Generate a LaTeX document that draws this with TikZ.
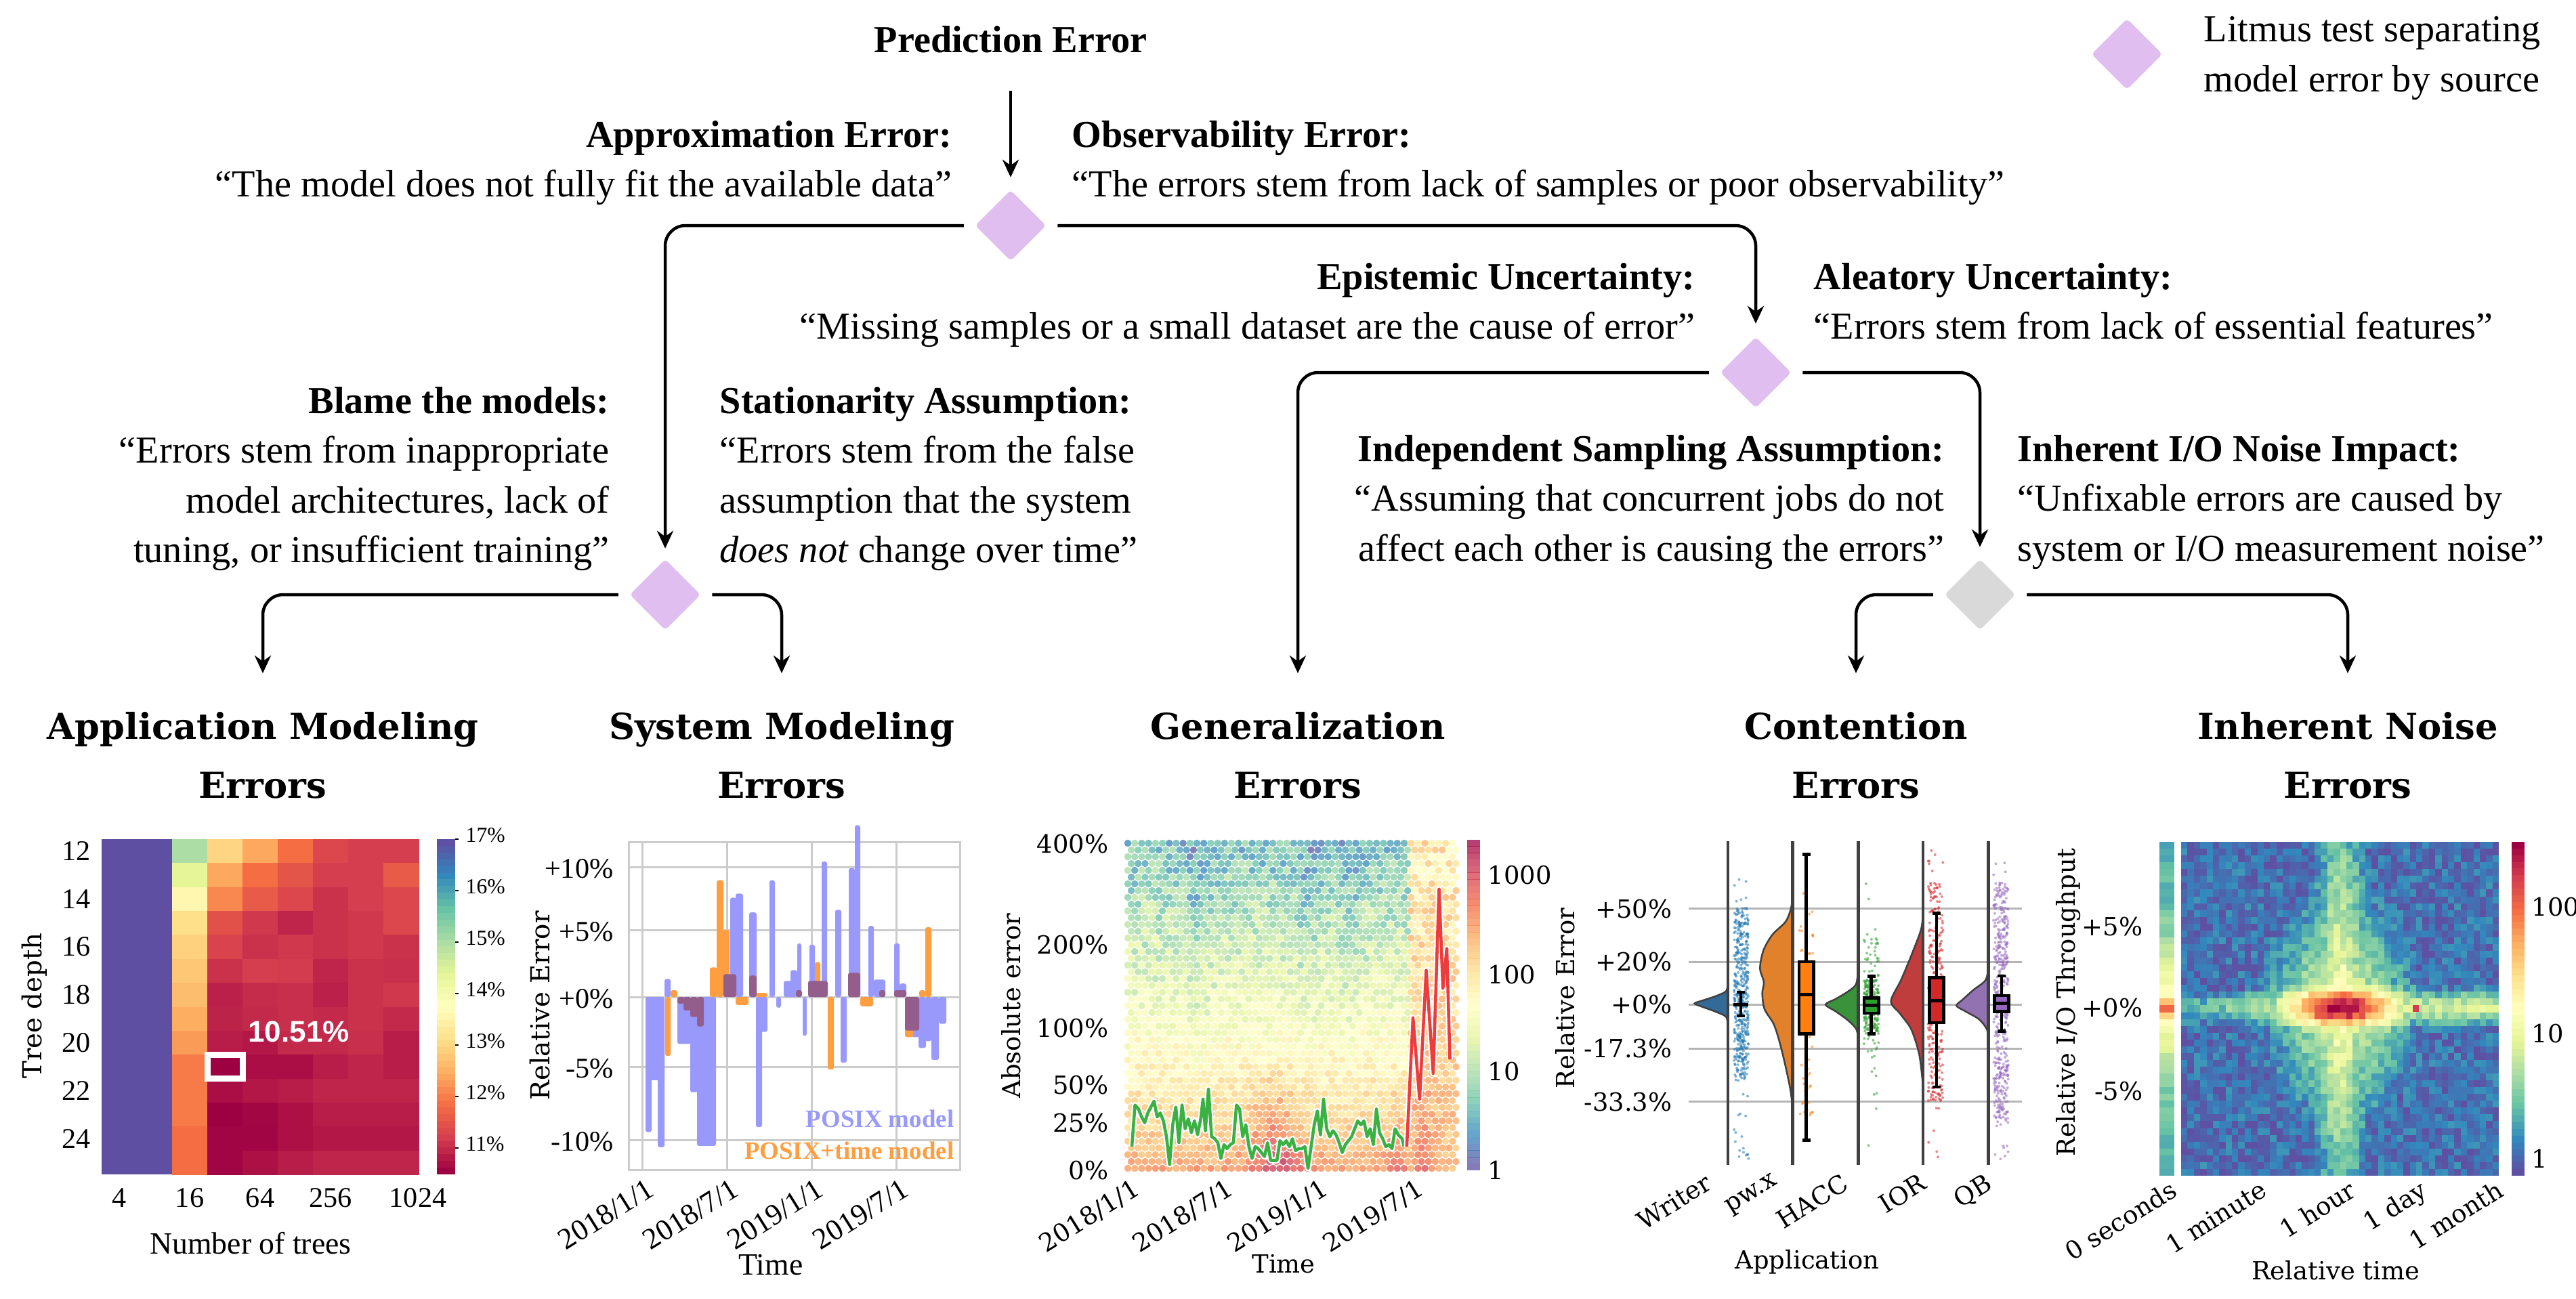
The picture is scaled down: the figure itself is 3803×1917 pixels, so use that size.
\documentclass[tikz,border=0pt]{standalone}
\usepackage{fontspec}
\setmainfont{Liberation Serif}
\setsansfont{Liberation Sans}
\newfontfamily\plotfont{DejaVu Serif}
\usepackage{tikz}
\usetikzlibrary{arrows.meta,shapes.geometric}
\tikzset{>={Stealth[length=2.6mm,width=2.4mm]}}

\definecolor{litmus}{HTML}{E0BEEF}
\definecolor{noisetest}{HTML}{D9D9D9}
\definecolor{gridc}{HTML}{CCCCCC}
\definecolor{contgrid}{HTML}{B5B5B5}
\definecolor{posix}{HTML}{9999FC}
\definecolor{posixtime}{HTML}{FF9E40}
\definecolor{overlap}{HTML}{945E8C}
\definecolor{genline}{HTML}{3BB143}
\definecolor{genspike}{HTML}{EE3B3B}
\definecolor{violinline}{HTML}{404040}
\definecolor{writerv}{HTML}{336A98}
\definecolor{pwxv}{HTML}{E1812C}
\definecolor{haccv}{HTML}{3A923A}
\definecolor{iorv}{HTML}{C03D3E}
\definecolor{qbv}{HTML}{9372B2}
\definecolor{writerd}{HTML}{1F77B4}
\definecolor{pwxd}{HTML}{FF7F0E}
\definecolor{haccd}{HTML}{2CA02C}
\definecolor{iord}{HTML}{D62728}
\definecolor{qbd}{HTML}{9467BD}

% spectral colour map, 0 = dark red ... 1 = purple
\definecolor{spec0}{HTML}{9E0142}
\definecolor{spec1}{HTML}{D53E4F}
\definecolor{spec2}{HTML}{F46D43}
\definecolor{spec3}{HTML}{FDAE61}
\definecolor{spec4}{HTML}{FEE08B}
\definecolor{spec5}{HTML}{FFFFBF}
\definecolor{spec6}{HTML}{E6F598}
\definecolor{spec7}{HTML}{ABDDA4}
\definecolor{spec8}{HTML}{66C2A5}
\definecolor{spec9}{HTML}{3288BD}
\definecolor{spec10}{HTML}{5E4FA2}
\newcommand{\specset}[2]{%
  \pgfmathsetmacro{\specv}{10*min(max(#1,0),0.999)}%
  \pgfmathtruncatemacro{\speci}{\specv}%
  \pgfmathtruncatemacro{\specp}{100*(1+\speci-\specv)}%
  \pgfmathtruncatemacro{\specj}{\speci+1}%
  \colorlet{#2}{spec\speci!\specp!spec\specj}}
\pgfmathdeclarefunction{gauss}{2}{%
  \pgfmathparse{exp(-min(9,((#1)/(#2))*((#1)/(#2))))}}

\begin{document}
\begin{tikzpicture}[x=0.01cm, y=-0.01cm,
  tree/.style={font=\fontsize{16}{20.8}\selectfont, inner sep=0pt},
  errtitle/.style={font=\plotfont\bfseries\fontsize{15}{24.75}\selectfont,
    align=center, anchor=north, inner sep=0pt},
  litmus/.style={diamond, fill=litmus, minimum width=1.05cm,
    minimum height=1.05cm, inner sep=0pt, rounded corners=1.5pt},
  link/.style={->, line width=0.45mm, rounded corners=0.3cm, shorten <=0.16cm},
  ticklbl/.style={font=\fontsize{12}{12}\selectfont, inner sep=0pt},
  plotlbl/.style={font=\plotfont\fontsize{10.5}{10.5}\selectfont, inner sep=0pt},
  datelbl/.style={rotate=32, anchor=north east}]

  \fill[white] (0,0) rectangle (3803,1917);
  \useasboundingbox (0,0) rectangle (3803,1917);

  %% decision tree
  \node[tree, anchor=base] (pe) at (1492,77) {\textbf{Prediction Error}};
  \node[litmus] (d1) at (1492,333) {};
  \node[litmus] (d2) at (982,878) {};
  \node[litmus] (d3) at (2592,550) {};
  \node[litmus, fill=noisetest] (d4) at (2923,878) {};

  \node[tree, anchor=north east, align=right] (approx) at (1406,178)
    {\textbf{Approximation Error:}\\“The model does not fully fit the available data”};
  \node[tree, anchor=north west, align=left] (observ) at (1582,178)
    {\textbf{Observability Error:}\\“The errors stem from lack of samples or poor observability”};
  \node[tree, anchor=north east, align=right] (epist) at (2503,388)
    {\textbf{Epistemic Uncertainty:}\\“Missing samples or a small dataset are the cause of error”};
  \node[tree, anchor=north west, align=left] (aleat) at (2677,388)
    {\textbf{Aleatory Uncertainty:}\\“Errors stem from lack of essential features”};
  \node[tree, anchor=north east, align=right] (blame) at (900,571)
    {\textbf{Blame the models:}\\“Errors stem from inappropriate\\model architectures, lack of\\tuning, or insufficient training”};
  \node[tree, anchor=north west, align=left] (station) at (1062,571)
    {\textbf{Stationarity Assumption:}\\“Errors stem from the false\\assumption that the system\\\emph{does not} change over time”};
  \node[tree, anchor=north east, align=right] (indep) at (2871,642)
    {\textbf{Independent Sampling Assumption:}\\“Assuming that concurrent jobs do not\\affect each other is causing the errors”};
  \node[tree, anchor=north west, align=left] (inher) at (2978,642)
    {\textbf{Inherent I/O Noise Impact:}\\“Unfixable errors are caused by\\system or I/O measurement noise”};

  % legend
  \node[litmus] (key) at (3140,80) {};
  \node[tree, anchor=north west, align=left] (keytext) at (3253,24)
    {Litmus test separating\\model error by source};

  \node[errtitle] (app) at (388,1051) {Application Modeling\\Errors};
  \node[errtitle] (sys) at (1154,1051) {System Modeling\\Errors};
  \node[errtitle] (gen) at (1916,1051) {Generalization\\Errors};
  \node[errtitle] (cont) at (2740,1051) {Contention\\Errors};
  \node[errtitle] (noise) at (3466,1051) {Inherent Noise\\Errors};

  \draw[->, line width=0.45mm, shorten <=0.56cm, shorten >=0.18cm] (pe) -- (d1);
  \draw[link, shorten >=0.15cm] (d1.west) -| (d2.north);
  \draw[link, shorten >=0.19cm] (d1.east) -| (d3.north);
  \draw[link, shorten >=0.57cm] (d2.west) -| (app.north);
  \draw[link, shorten >=0.57cm] (d2.east) -| (sys.north);
  \draw[link, shorten >=0.57cm] (d3.west) -| (gen.north);
  \draw[link, shorten >=0.17cm] (d3.east) -| (d4.north);
  \draw[link, shorten >=0.57cm] (d4.west) -| (cont.north);
  \draw[link, shorten >=0.57cm] (d4.east) -| (noise.north);

  %% application modeling: depth x trees heat map
  \fill[spec10] (150,1239) rectangle (254.5,1734);
  \foreach \row [count=\rw from 0] in {
    {0.70,0.38,0.29,0.20,0.12,0.10,0.10},
    {0.60,0.29,0.20,0.15,0.10,0.10,0.16},
    {0.47,0.24,0.16,0.12,0.08,0.10,0.12},
    {0.40,0.14,0.09,0.06,0.08,0.09,0.12},
    {0.37,0.11,0.08,0.09,0.08,0.09,0.08},
    {0.35,0.08,0.10,0.095,0.06,0.08,0.075},
    {0.33,0.05,0.07,0.075,0.05,0.08,0.09},
    {0.30,0.055,0.065,0.075,0.065,0.08,0.065},
    {0.27,0.045,0.035,0.065,0.065,0.075,0.045},
    {0.22,0.00,0.02,0.02,0.045,0.06,0.045},
    {0.22,0.02,0.035,0.045,0.06,0.06,0.06},
    {0.22,0.00,0.01,0.025,0.045,0.045,0.045},
    {0.20,0.005,0.005,0.025,0.035,0.035,0.035},
    {0.20,0.005,0.025,0.045,0.06,0.06,0.06}} {
    \foreach \s [count=\cl from 2] in \row {
      \specset{\s}{cellc}
      \fill[cellc] ({150+52*\cl},{1239+35.36*\rw}) rectangle ++(52.6,35.9);
    }
  }
  \draw[white, line width=0.9mm] (306,1557) rectangle (358,1592.5);
  \node[font=\sffamily\bfseries\fontsize{12.5}{12.5}\selectfont, text=white, inner sep=0pt]
    (best) at (441,1523) {10.51\%};
  \foreach \k in {0,...,49} {
    \specset{\k/49}{cbc}
    \fill[cbc] (645,{1734-9.9*\k}) rectangle ++(27,-10.4);
  }
  \foreach \lab [count=\i from 0] in {17,16,15,14,13,12,11} {
    \draw[line width=0.15mm] (672,{1239+76*\i}) -- ++(5,0);
    \node[ticklbl, font=\fontsize{9}{9}\selectfont, anchor=west] at (687,{1233+76*\i}) {\lab\%};
  }
  \foreach \d [count=\i from 0] in {12,14,16,18,20,22,24}
    \node[ticklbl, anchor=east] at (134,{1239+35.36*(2*\i+0.5)}) {\d};
  \foreach \n/\x in {4/176,16/280,64/384,256/488,1024/617}
    \node[ticklbl] at (\x,1769) {\n};
  \node[plotlbl, font=\plotfont\fontsize{11}{11}\selectfont, rotate=90] (depthlbl) at (51,1485) {Tree depth};
  \node[ticklbl, font=\fontsize{13}{13}\selectfont] (treeslbl) at (370,1836) {Number of trees};

  %% system modeling: relative error over time
  \draw[gridc, line width=0.3mm] (928,1243) rectangle (1417,1727);
  \foreach \x in {948,1073,1198,1323} \draw[gridc, line width=0.3mm] (\x,1243) -- (\x,1727);
  \foreach \y in {1280,1373,1472,1575,1683} \draw[gridc, line width=0.3mm] (928,\y) -- (1417,\y);
  \begin{scope}[shift={(0,1472)}, y={(0,0.198cm)}]
    \foreach \a/\b/\v in {953/962/-10.07, 953/981/-6.2, 971/981/-11.2, 981/990/1.34,
      1000/1020/-3.5, 1019/1030/-7.1, 1029/1057/-11.1, 1078/1087/7.4, 1086/1097/7.7,
      1106/1117/6.3, 1116/1133/-2.6, 1116/1125/-9.7, 1136/1144/8.7, 1146/1153/-0.8,
      1157/1173/1.2, 1167/1177/2.0, 1177/1183/4.0, 1185/1191/-2.9, 1195/1203/3.9,
      1213/1221/10.1, 1233/1242/6.5, 1241/1250/-4.9, 1253/1262/9.6, 1262/1270/12.8,
      1282/1290/5.3, 1290/1307/1.3, 1320/1328/4.0, 1328/1338/1.0, 1346/1357/-3.0,
      1356/1367/-3.8, 1366/1375/-3.3, 1375/1386/-4.7, 1386/1397/-2.0}
      \fill[posix, rounded corners=0.3mm] (\a,0) rectangle (\b,\v);
    \foreach \a/\b/\v in {982/990/-4.4, 990/1000/0.5, 1048/1059/2.2, 1058/1068/8.7,
      1068/1077/5.0, 1086/1105/-0.6, 1116/1133/0.3, 1203/1211/2.6, 1222/1231/-5.4,
      1270/1289/-0.7, 1336/1348/-3.0, 1357/1366/0.5, 1366/1375/5.2}
      \fill[posixtime, rounded corners=0.3mm] (\a,0) rectangle (\b,\v);
    \foreach \a/\b/\v in {1000/1010/-0.5, 1009/1020/-1.0, 1019/1030/-1.5, 1029/1039/-2.2,
      1068/1087/1.7, 1106/1117/1.6, 1175/1184/0.5, 1193/1222/1.2, 1252/1270/1.8,
      1298/1307/0.5, 1320/1338/0.5, 1336/1357/-2.5}
      \fill[overlap, rounded corners=0.3mm] (\a,0) rectangle (\b,\v);
  \end{scope}
  \node[anchor=base east, inner sep=0pt, font=\bfseries\fontsize{10.5}{10.5}\selectfont, text=posix]
    (posixlbl) at (1409,1664) {POSIX model};
  \node[anchor=base east, inner sep=0pt, font=\bfseries\fontsize{10.5}{10.5}\selectfont, text=posixtime]
    (timelbl) at (1409,1711) {POSIX+time model};
  \foreach \lab/\y in {+10/1280,+5/1373,+0/1472,-5/1575,-10/1683}
    \node[ticklbl, anchor=east] at (906,\y+3) {\lab\%};
  \foreach \x/\yr/\mo in {953/2018/1,1078/2018/7,1203/2019/1,1329/2019/7}
    \node[ticklbl, font=\fontsize{12.5}{12.5}\selectfont, datelbl] at (\x,1738) {\yr/\mo/1};
  \node[plotlbl, font=\plotfont\fontsize{11}{11}\selectfont, rotate=90] (syserr) at (797,1485) {Relative Error};
  \node[ticklbl, font=\fontsize{13}{13}\selectfont] (systime) at (1138,1868) {Time};

  %% generalization: hexbin of absolute error over time
  \pgfmathsetseed{7}
  \foreach \i in {0,...,47} \foreach \j in {0,...,48} {
    \pgfmathsetmacro{\hx}{1665+10.2*\i+5.1*mod(\j,2)}
    \pgfmathsetmacro{\hu}{(\hx-1660)/490}
    \pgfmathsetmacro{\hv}{1.001-\j/48}
    \pgfmathsetmacro{\hs}{ifthenelse(\hu<0.86,
      0.25+0.57*\hv^0.85+\hv*(0.1*gauss(\hu-0.22,0.035)+0.08*gauss(\hu-0.55,0.035)+0.07*gauss(\hu-0.68,0.03))
      -0.2*gauss(\hu-0.46,0.08)*max(0,1-2.5*\hv)-0.12*gauss(\hu-0.82,0.03)*max(0,1-3*\hv),
      0.3+0.12*\hv-0.15*gauss(\hu-0.9,0.03)*max(0,1-3*\hv))+(0.1+0.12*\hv)*(rnd-0.5)}
    \specset{\hs}{hexc}
    \fill[hexc, fill opacity=0.75] (\hx,{1245+10*\j}) circle (5.3);
  }
  \begin{scope}[shift={(1450,1000)}, xscale=0.574, yscale=0.5848]
    \draw[white, double=genline, double distance=1.3pt, line width=0.6pt, line join=round]
      plot coordinates {(385,1185) (393,1080) (402,1090) (410,1110) (418,1125) (426,1100)
      (434,1085) (442,1070) (450,1110) (458,1100) (466,1120) (474,1160) (482,1230) (490,1130)
      (498,1085) (506,1175) (514,1080) (522,1140) (530,1115) (538,1150) (546,1120) (554,1155)
      (562,1115) (568,1065) (574,1145) (582,1040) (590,1160) (598,1165) (606,1175) (614,1215)
      (622,1180) (630,1190) (638,1180) (646,1175) (654,1080) (662,1090) (670,1160) (678,1130)
      (686,1185) (694,1215) (702,1185) (710,1190) (718,1200) (726,1210) (734,1175) (742,1220)
      (750,1220) (758,1220) (766,1170) (774,1180) (782,1170) (790,1185) (798,1165) (806,1195)
      (814,1190) (822,1190) (830,1185) (838,1240) (846,1185) (854,1130) (862,1095) (870,1155)
      (878,1065) (886,1140) (894,1160) (902,1145) (910,1155) (918,1175) (926,1200) (934,1180)
      (942,1170) (950,1160) (958,1140) (966,1120) (974,1130) (982,1120) (990,1160) (998,1140)
      (1006,1180) (1014,1090) (1022,1150) (1030,1165) (1038,1185) (1046,1180) (1054,1190)
      (1062,1140) (1070,1155) (1080,1165) (1085,1185)};
    \draw[white, double=genspike, double distance=1.3pt, line width=0.6pt, line join=round]
      plot coordinates {(1092,1185) (1108,860) (1125,1065) (1142,740) (1160,1000) (1175,535)
      (1185,785) (1195,685) (1203,965)};
  \end{scope}
  \foreach \k in {0,...,49} {
    \specset{1-\k/49}{cbc}
    \fill[cbc, fill opacity=0.75] (2166,{1728-9.76*\k}) rectangle ++(19,-10.2);
  }
  \foreach \lab/\y in {1000/1292,100/1439,10/1582,1/1728}
    \node[plotlbl, anchor=west] at (2196,\y) {\lab};
  \foreach \lab/\y in {400/1246,200/1395,100/1518,50/1602,25/1658,0/1728}
    \node[plotlbl, anchor=east] at (1637,\y) {\lab\%};
  \foreach \x/\yr/\mo in {1671/2018/1,1809/2018/7,1949/2019/1,2090/2019/7}
    \node[plotlbl, datelbl] at (\x,1738) {\yr/\mo/1};
  \node[plotlbl, rotate=90] (generr) at (1493,1485) {Absolute error};
  \node[plotlbl] (gentime) at (1895,1866) {Time};

  %% contention: raincloud plot per application
  \begin{scope}[shift={(2480,1230)}, scale=0.3333]
    \foreach \y in {335,570,760,955,1190} \draw[contgrid, line width=0.3mm] (38,\y) -- (1515,\y);
    \filldraw[fill=writerv, draw=violinline, line width=0.25mm] plot[smooth] coordinates
      {(213,660) (205,700) (160,722) (100,742) (65,755) (100,770) (160,792) (205,815) (213,860)} -- cycle;
    \filldraw[fill=pwxv, draw=violinline, line width=0.25mm] plot[smooth] coordinates
      {(500,240) (495,320) (470,390) (410,450) (370,520) (355,600) (372,660) (365,710)
       (375,780) (415,845) (440,920) (465,1020) (490,1140) (500,1230)} -- cycle;
    \filldraw[fill=haccv, draw=violinline, line width=0.25mm] plot[smooth] coordinates
      {(790,600) (780,670) (740,705) (690,735) (645,760) (690,790) (745,830) (782,870) (790,920)} -- cycle;
    \filldraw[fill=iorv, draw=violinline, line width=0.25mm] plot[smooth] coordinates
      {(1077,330) (1070,420) (1030,530) (980,650) (935,745) (975,800) (1025,870) (1060,980) (1075,1100)} -- cycle;
    \filldraw[fill=qbv, draw=violinline, line width=0.25mm] plot[smooth] coordinates
      {(1367,580) (1355,650) (1300,695) (1250,740) (1225,765) (1265,790) (1325,825) (1360,870) (1367,920)} -- cycle;
    \foreach \x in {213,500,790,1077,1367} \draw[violinline, line width=0.45mm] (\x,35) -- (\x,1470);
    % jittered samples
    \pgfmathsetseed{3}
    \foreach \n in {1,...,450} \fill[writerd, fill opacity=0.55] ({272+32*(2*rnd-1)},{715+385*(2*rnd-1)}) circle (6);
    \foreach \n in {1,...,40} \fill[writerd, fill opacity=0.55] ({272+32*(2*rnd-1)},{830+640*(2*rnd-1)}) circle (6);
    \foreach \n in {1,...,60} \fill[pwxd, fill opacity=0.55] ({560+30*(2*rnd-1)},{745+515*(2*rnd-1)}) circle (6);
    \foreach \n in {1,...,150} \fill[haccd, fill opacity=0.55] ({848+33*(2*rnd-1)},{765+115*(2*rnd-1)}) circle (6);
    \foreach \n in {1,...,80} \fill[haccd, fill opacity=0.55] ({848+33*(2*rnd-1)},{710+290*(2*rnd-1)}) circle (6);
    \foreach \n in {1,...,15} \fill[haccd, fill opacity=0.55] ({848+33*(2*rnd-1)},{795+665*(2*rnd-1)}) circle (6);
    \foreach \n in {1,...,250} \fill[iord, fill opacity=0.55] ({1133+33*(2*rnd-1)},{710+490*(2*rnd-1)}) circle (6);
    \foreach \n in {1,...,40} \fill[iord, fill opacity=0.55] ({1133+33*(2*rnd-1)},{755+715*(2*rnd-1)}) circle (6);
    \foreach \n in {1,...,400} \fill[qbd, fill opacity=0.55] ({1422+33*(2*rnd-1)},{760+540*(2*rnd-1)}) circle (6);
    \foreach \n in {1,...,50} \fill[qbd, fill opacity=0.55] ({1422+33*(2*rnd-1)},{755+695*(2*rnd-1)}) circle (6);
    % box plots
    \foreach \x/\wt/\wb/\bt/\bb/\md/\bc in {270/705/810/760/760/760/writerd,
      560/95/1360/570/890/715/pwxd, 848/635/890/730/798/763/haccd,
      1137/355/1125/640/840/742/iord, 1425/633/877/720/790/755/qbd} {
      \draw[line width=0.45mm] (\x,\wt) -- (\x,\wb) (\x-18,\wt) -- (\x+18,\wt) (\x-18,\wb) -- (\x+18,\wb);
      \filldraw[fill=\bc, line width=0.45mm] (\x-32,\bt) rectangle (\x+32,\bb);
      \draw[line width=0.45mm] (\x-32,\md) -- (\x+32,\md);
    }
  \end{scope}
  \foreach \lab/\y in {+50/1342,+20/1420,+0/1483,-17.3/1548,-33.3/1627}
    \node[plotlbl, anchor=east] at (2469,\y) {\lab\%};
  \foreach \lab/\x in {Writer/2515,pw.x/2615,HACC/2717,IOR/2832,QB/2929}
    \node[plotlbl, datelbl] at (\x,1730) {\lab};
  \node[plotlbl, rotate=90] (conterr) at (2311,1474) {Relative Error};
  \node[plotlbl] (contapp) at (2668,1863) {Application};

  %% inherent noise: throughput change against time distance
  \pgfmathsetseed{11}
  \foreach \i in {0,...,49} \foreach \j in {0,...,48} {
    \pgfmathsetmacro{\cu}{(\i+0.5)/50-0.503}
    \pgfmathsetmacro{\cv}{(\j+0.5)/49-0.497}
    \pgfmathsetmacro{\ct}{max(gauss(\cu,0.2)*gauss(\cv,0.07),
      gauss(\cv,0.05)*ifthenelse(\cu<0,0.16+0.3*gauss(\cu,0.3),0.36),
      gauss(\cu,0.08)*(0.5-0.6*abs(\cv)), 0.38*gauss(\cu,0.2)*gauss(\cv,0.3), 0.06)+0.14*(rnd-0.5)}
    \specset{1-\ct}{cellc}
    \fill[cellc] ({3220+9.38*\i},{1243+10.06*\j}) rectangle ++(9.6,10.3);
  }
  \fill[spec1] (3562,1484) rectangle ++(9.4,10);
  \foreach \j in {0,...,48} {
    \pgfmathsetmacro{\cv}{(\j+0.5)/49-0.497}
    \pgfmathsetmacro{\ct}{0.18+0.3*gauss(\cv,0.2)+0.3*gauss(\cv,0.025)+0.08*(rnd-0.5)}
    \specset{1-\ct}{cellc}
    \fill[cellc] (3188,{1243+10.06*\j}) rectangle ++(22,10.3);
  }
  \foreach \k in {0,...,49} {
    \specset{\k/49}{cbc}
    \fill[cbc] (3708,{1243+9.86*\k}) rectangle ++(19,10.3);
  }
  \foreach \lab/\y in {100/1339,10/1526,1/1711}
    \node[plotlbl, anchor=west] at (3737,\y) {\lab};
  \foreach \lab/\y in {+5/1368,+0/1488,-5/1611}
    \node[plotlbl, anchor=east] at (3164,\y) {\lab\%};
  \foreach \lab/\x in {0 seconds/3202,1 minute/3335,1 hour/3466,1 day/3571,1 month/3684}
    \node[plotlbl, datelbl] at (\x,1740) {\lab};
  \node[plotlbl, rotate=90] (noiseerr) at (3054,1480) {Relative I/O Throughput};
  \node[plotlbl] (noisetime) at (3448,1876) {Relative time};
\end{tikzpicture}
\end{document}
